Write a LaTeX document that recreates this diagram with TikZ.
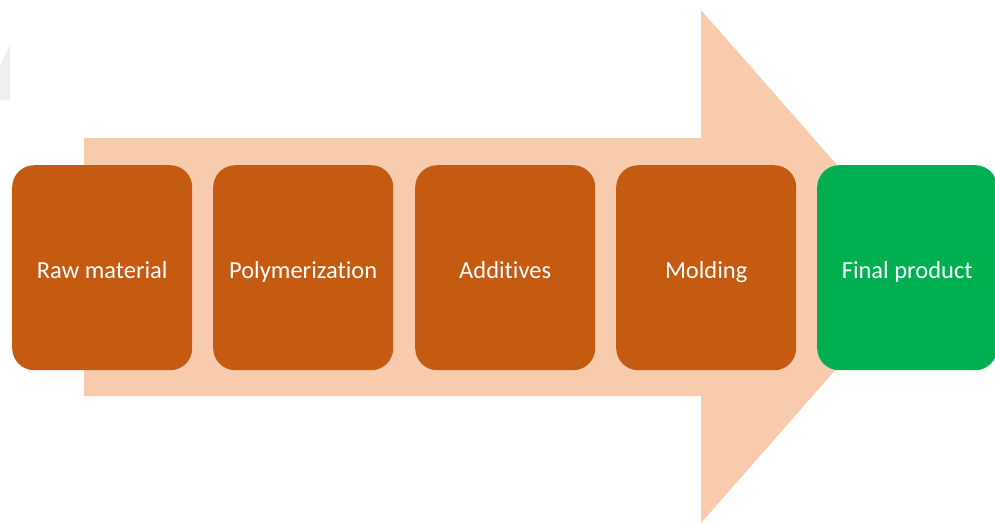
\documentclass[tikz,border=0pt]{standalone}
\usepackage{fontspec}
\setmainfont{Carlito}[Ligatures=NoCommon]
\definecolor{boxorange}{HTML}{C55A11}
\definecolor{arrowpeach}{HTML}{F8CBAD}
\definecolor{boxgreen}{HTML}{00B050}
\definecolor{ghostgray}{HTML}{EFEFEF}

\begin{document}
\begin{tikzpicture}[x=1pt,y=-1pt,
  stage/.style={rectangle, rounded corners=22pt, fill=boxorange,
    minimum width=180pt, minimum height=205pt, inner sep=0pt,
    text height=25pt, text depth=3pt,
    text=white, font=\fontsize{24.5}{28}\selectfont, anchor=north west},
  finalstage/.style={stage, fill=boxgreen}]
\useasboundingbox (0,0) rectangle (995,523);

% faint shape at the left edge
\fill[ghostgray] (0,67) -- (10,44) -- (10,100) -- (0,100) -- cycle;

% large background process arrow
\fill[arrowpeach] (84,138) -- (701,138) -- (701,10) -- (926,266.5)
  -- (701,523) -- (701,396) -- (84,396) -- cycle;

% process stages
\node[stage] (raw) at (12,165) {Raw material};
\node[stage] (poly) at (213,165) {Polymerization};
\node[stage] (add) at (415,165) {Additives};
\node[stage] (mold) at (616,165) {Molding};
\node[finalstage] (final) at (817,165) {Final product};
\end{tikzpicture}
\end{document}
